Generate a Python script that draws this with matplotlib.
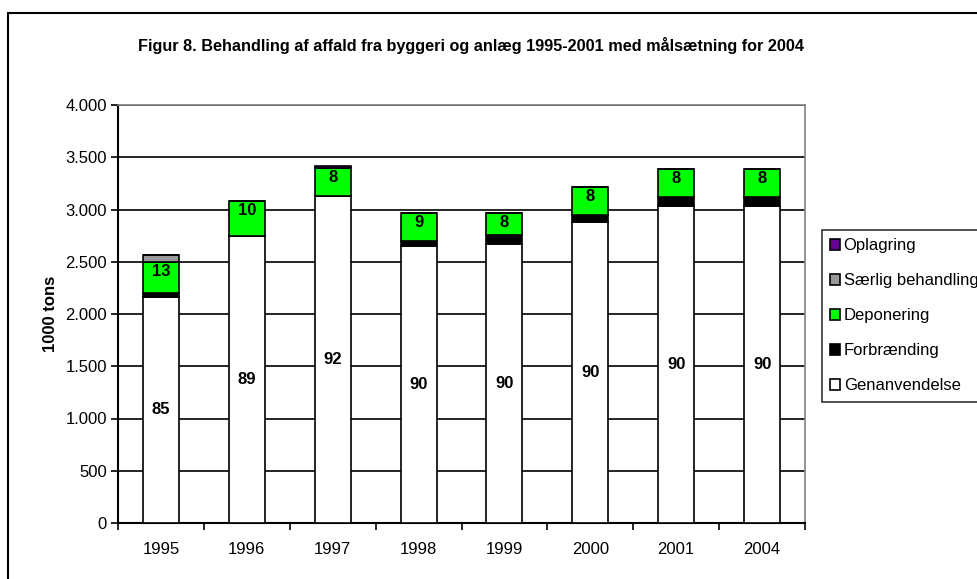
import matplotlib
matplotlib.use("Agg")
from matplotlib import pyplot
from matplotlib.patches import Rectangle
from matplotlib.ticker import FuncFormatter, FixedLocator
import numpy as np

pyplot.rcParams['font.family'] = ['Liberation Sans', 'DejaVu Sans']

years = ['1995', '1996', '1997', '1998', '1999', '2000', '2001', '2004']
genanvendelse = [2165, 2750, 3130, 2655, 2670, 2883, 3033, 3033]
forbraending = [33, 0, 0, 47, 86, 64, 87, 87]
deponering = [302, 330, 270, 262, 208, 265, 265, 265]
saerlig = [62, 0, 0, 0, 0, 0, 0, 0]
oplagring = [0, 0, 20, 0, 0, 0, 0, 0]
pct_genanv = ['85', '89', '92', '90', '90', '90', '90', '90']
pct_depon = ['13', '10', '8', '9', '8', '8', '8', '8']

series = [
	('Genanvendelse', genanvendelse, '#ffffff'),
	('Forbrænding', forbraending, '#000000'),
	('Deponering', deponering, '#00ff00'),
	('Særlig behandling', saerlig, '#999999'),
	('Oplagring', oplagring, '#660099'),
]

fig = pyplot.figure(figsize=(9.78, 5.79), dpi=100)
ax = fig.add_axes([118/978., 1-523/579., (805-118)/978., (523-105)/579.])

# outer chart frame (runs off the right/bottom edge like the source)
fig.patches.append(Rectangle((8/978., -0.05), 1.2, 1-13/579.+0.05,
	transform=fig.transFigure, fill=False, edgecolor='k', linewidth=1.5))

x = np.arange(len(years))
bottom = np.zeros(len(years))
handles = []
for name, vals, col in series:
	vals = np.array(vals, dtype=float)
	h = ax.bar(x, vals, width=0.42, bottom=bottom, color=col,
			edgecolor='k', linewidth=1.2, label=name, zorder=3)
	handles.append(h)
	bottom += vals

for i in range(len(years)):
	g = genanvendelse[i]
	ax.text(x[i], g/2., pct_genanv[i], ha='center', va='center',
			fontsize=12, fontweight='bold', zorder=5)
	top = g + forbraending[i] + deponering[i]
	ax.text(x[i], top-90, pct_depon[i], ha='center', va='center',
			fontsize=12, fontweight='bold', zorder=5)

ax.set_xlim(-0.5, len(years)-0.5)
ax.set_ylim(0, 4000)
ax.set_yticks(np.arange(0, 4001, 500))
ax.yaxis.set_major_formatter(FuncFormatter(lambda v, p: '{:,.0f}'.format(v).replace(',', '.')))
ax.set_xticks(x)
ax.set_xticklabels(years)
ax.xaxis.set_minor_locator(FixedLocator(np.arange(-0.5, len(years), 1)))
ax.tick_params(axis='x', which='major', length=0, pad=14, labelsize=12)
ax.tick_params(axis='x', which='minor', length=5, width=1.2, direction='out')
ax.tick_params(axis='y', length=5, width=1.2, direction='out', labelsize=12, pad=3)

ax.yaxis.grid(True, color='k', linewidth=1.2, zorder=0)
ax.set_axisbelow(True)
for s in ['top', 'right']:
	ax.spines[s].set_color('#808080')
	ax.spines[s].set_linewidth(1.2)
for s in ['left', 'bottom']:
	ax.spines[s].set_color('k')
	ax.spines[s].set_linewidth(1.5)

ax.set_ylabel('1000 tons', fontsize=12, fontweight='bold', labelpad=5)

fig.text(471/978., 1-46/579., 'Figur 8. Behandling af affald fra byggeri og anlæg 1995-2001 med målsætning for 2004',
		ha='center', va='center', fontsize=11.7, fontweight='bold')

leg = fig.legend(handles[::-1], [s[0] for s in series][::-1],
		loc='upper left', bbox_to_anchor=(822/978., 1-230/579.),
		fontsize=12, frameon=True, fancybox=False, edgecolor='k',
		handlelength=0.6, handleheight=0.6, handletextpad=0.2,
		labelspacing=1.2, borderpad=0.5, borderaxespad=0)
leg.get_frame().set_linewidth(1.2)

pyplot.savefig('out.png', dpi=100)
